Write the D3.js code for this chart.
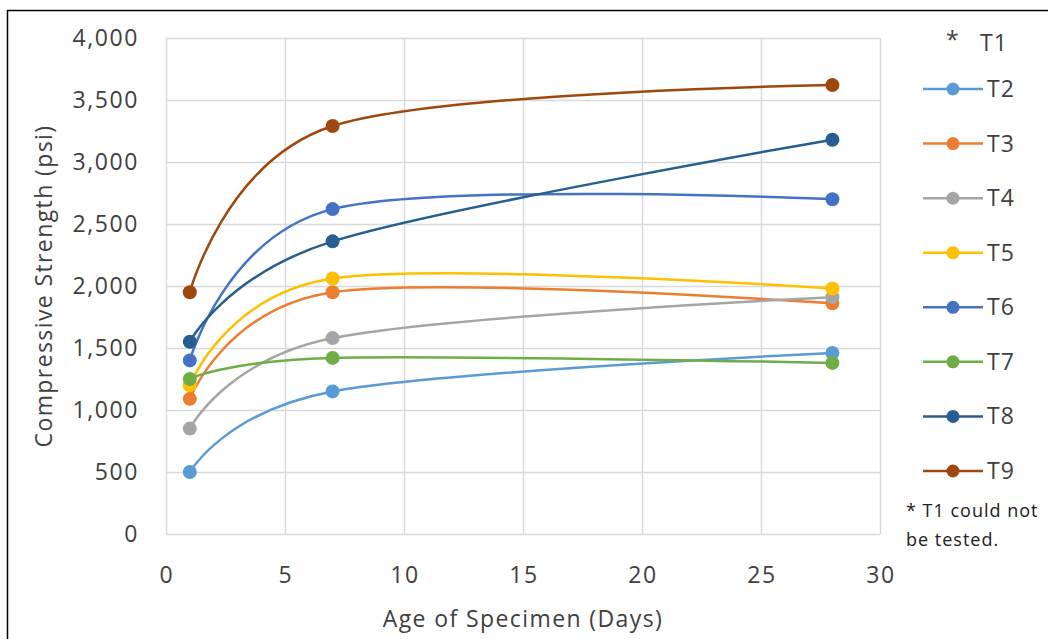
<!DOCTYPE html>
<html lang="en">
    <head>
        <meta charset="utf-8">
        <title>Compressive strength by age</title>
        <script src="https://d3js.org/d3.v7.min.js"></script>
        <style type="text/css">
          body { margin: 0; background: #fff; }
          svg { width: 1048px; height: 639px; display: block; }
          .tick-label { font-family: "Open Sans", sans-serif; font-size: 23px; letter-spacing: 1.6px; fill: #404040; }
          .axis-title { font-family: "Open Sans", sans-serif; font-size: 23px; letter-spacing: 1.4px; fill: #404040; }
          .legend { font-family: "Open Sans", sans-serif; font-size: 23px; letter-spacing: 1.2px; fill: #404040; }
          .note { font-family: "Open Sans", sans-serif; font-size: 18px; letter-spacing: 1px; fill: #202020; }
        </style>
    </head>
    <body>
        <svg></svg>
        <script type="text/javascript">

        // ages in days
        const days = [1, 7, 28];

        const seriesNames = ["T2", "T3", "T4", "T5", "T6", "T7", "T8", "T9"];
        const T2 = [500, 1150, 1460];
        const T3 = [1090, 1950, 1860];
        const T4 = [850, 1580, 1910];
        const T5 = [1200, 2060, 1980];
        const T6 = [1400, 2620, 2700];
        const T7 = [1250, 1420, 1380];
        const T8 = [1550, 2360, 3180];
        const T9 = [1950, 3290, 3620];
        const seriesValues = [T2, T3, T4, T5, T6, T7, T8, T9];

        const xTicks = [0, 5, 10, 15, 20, 25, 30];
        const yTicks = [0, 500, 1000, 1500, 2000, 2500, 3000, 3500, 4000];

        // Excel office colours
        const colors = ["#5B9BD5", "#ED7D31", "#A5A5A5", "#FFC000", "#4472C4", "#70AD47", "#255E91", "#9E480E"];

        const svg = d3.select("svg");

        // outer frame
        svg.append("rect")
           .attr("x", 7.5).attr("y", 10.5)
           .attr("width", 1100).attr("height", 700)
           .attr("fill", "none").attr("stroke", "#000").attr("stroke-width", 1.5);

        const pLeft = 166, pRight = 880, pTop = 38, pBottom = 534;

        const x = d3.scaleLinear().domain([0, 30]).range([pLeft, pRight]);
        const y = d3.scaleLinear().domain([0, 4000]).range([pBottom, pTop]);

        // gridlines
        svg.append("g").selectAll("line")
           .data(yTicks).enter().append("line")
           .attr("x1", pLeft).attr("x2", pRight)
           .attr("y1", d => Math.round(y(d)) + 0.5).attr("y2", d => Math.round(y(d)) + 0.5)
           .attr("stroke", "#d9d9d9").attr("stroke-width", 1.5);

        svg.append("g").selectAll("line")
           .data(xTicks).enter().append("line")
           .attr("y1", pTop).attr("y2", pBottom)
           .attr("x1", d => Math.round(x(d)) + 0.5).attr("x2", d => Math.round(x(d)) + 0.5)
           .attr("stroke", "#d9d9d9").attr("stroke-width", 1.5);

        // tick labels
        const fmt = d3.format(",");
        svg.append("g").selectAll("text")
           .data(yTicks).enter().append("text")
           .attr("class", "tick-label")
           .attr("x", 139).attr("y", d => y(d))
           .attr("dy", "0.35em")
           .attr("text-anchor", "end")
           .text(d => fmt(d));

        svg.append("g").selectAll("text")
           .data(xTicks).enter().append("text")
           .attr("class", "tick-label")
           .attr("x", d => x(d) + 1).attr("y", 583)
           .attr("text-anchor", "middle")
           .text(d => d);

        // axis titles
        svg.append("text")
           .attr("class", "axis-title")
           .attr("x", (pLeft + pRight) / 2).attr("y", 627)
           .attr("text-anchor", "middle")
           .text("Age of Specimen (Days)");

        svg.append("text")
           .attr("class", "axis-title")
           .attr("transform", "translate(52," + ((pTop + pBottom) / 2) + ") rotate(-90)")
           .attr("text-anchor", "middle")
           .text("Compressive Strength (psi)");

        // smoothed lines
        const line = d3.line()
                       .x((d, i) => x(days[i]))
                       .y(d => y(d))
                       .curve(d3.curveCatmullRom.alpha(0));

        const series = svg.append("g").selectAll("g")
                          .data(seriesValues).enter().append("g");

        series.append("path")
              .attr("d", d => line(d))
              .attr("fill", "none")
              .attr("stroke", (d, i) => colors[i])
              .attr("stroke-width", 2.5)
              .attr("stroke-linecap", "round");

        series.each(function(vals, i) {
            d3.select(this).selectAll("circle")
              .data(vals).enter().append("circle")
              .attr("cx", (d, j) => x(days[j]))
              .attr("cy", d => y(d))
              .attr("r", 7)
              .attr("fill", colors[i]);
        });

        // legend
        svg.append("text")
           .attr("class", "legend")
           .attr("x", 953).attr("y", 48)
           .attr("text-anchor", "middle")
           .text("*");
        svg.append("text")
           .attr("class", "legend")
           .attr("x", 980).attr("y", 43)
           .attr("dy", "0.35em")
           .text("T1");

        const rowY = d3.scalePoint().domain(seriesNames).range([89, 471]);

        const lg = svg.append("g").selectAll("g")
                      .data(seriesNames).enter().append("g")
                      .attr("transform", d => "translate(0," + rowY(d) + ")");

        lg.append("line")
          .attr("x1", 923).attr("x2", 983)
          .attr("stroke", (d, i) => colors[i])
          .attr("stroke-width", 2.5);
        lg.append("circle")
          .attr("cx", 953).attr("r", 6.5)
          .attr("fill", (d, i) => colors[i]);
        lg.append("text")
          .attr("class", "legend")
          .attr("x", 987).attr("dy", "0.35em")
          .text(d => d);

        // footnote
        svg.append("text")
           .attr("class", "note")
           .attr("x", 906).attr("y", 517)
           .text("* T1 could not");
        svg.append("text")
           .attr("class", "note")
           .attr("x", 906).attr("y", 546)
           .text("be tested.");

        </script>
    </body>
</html>
